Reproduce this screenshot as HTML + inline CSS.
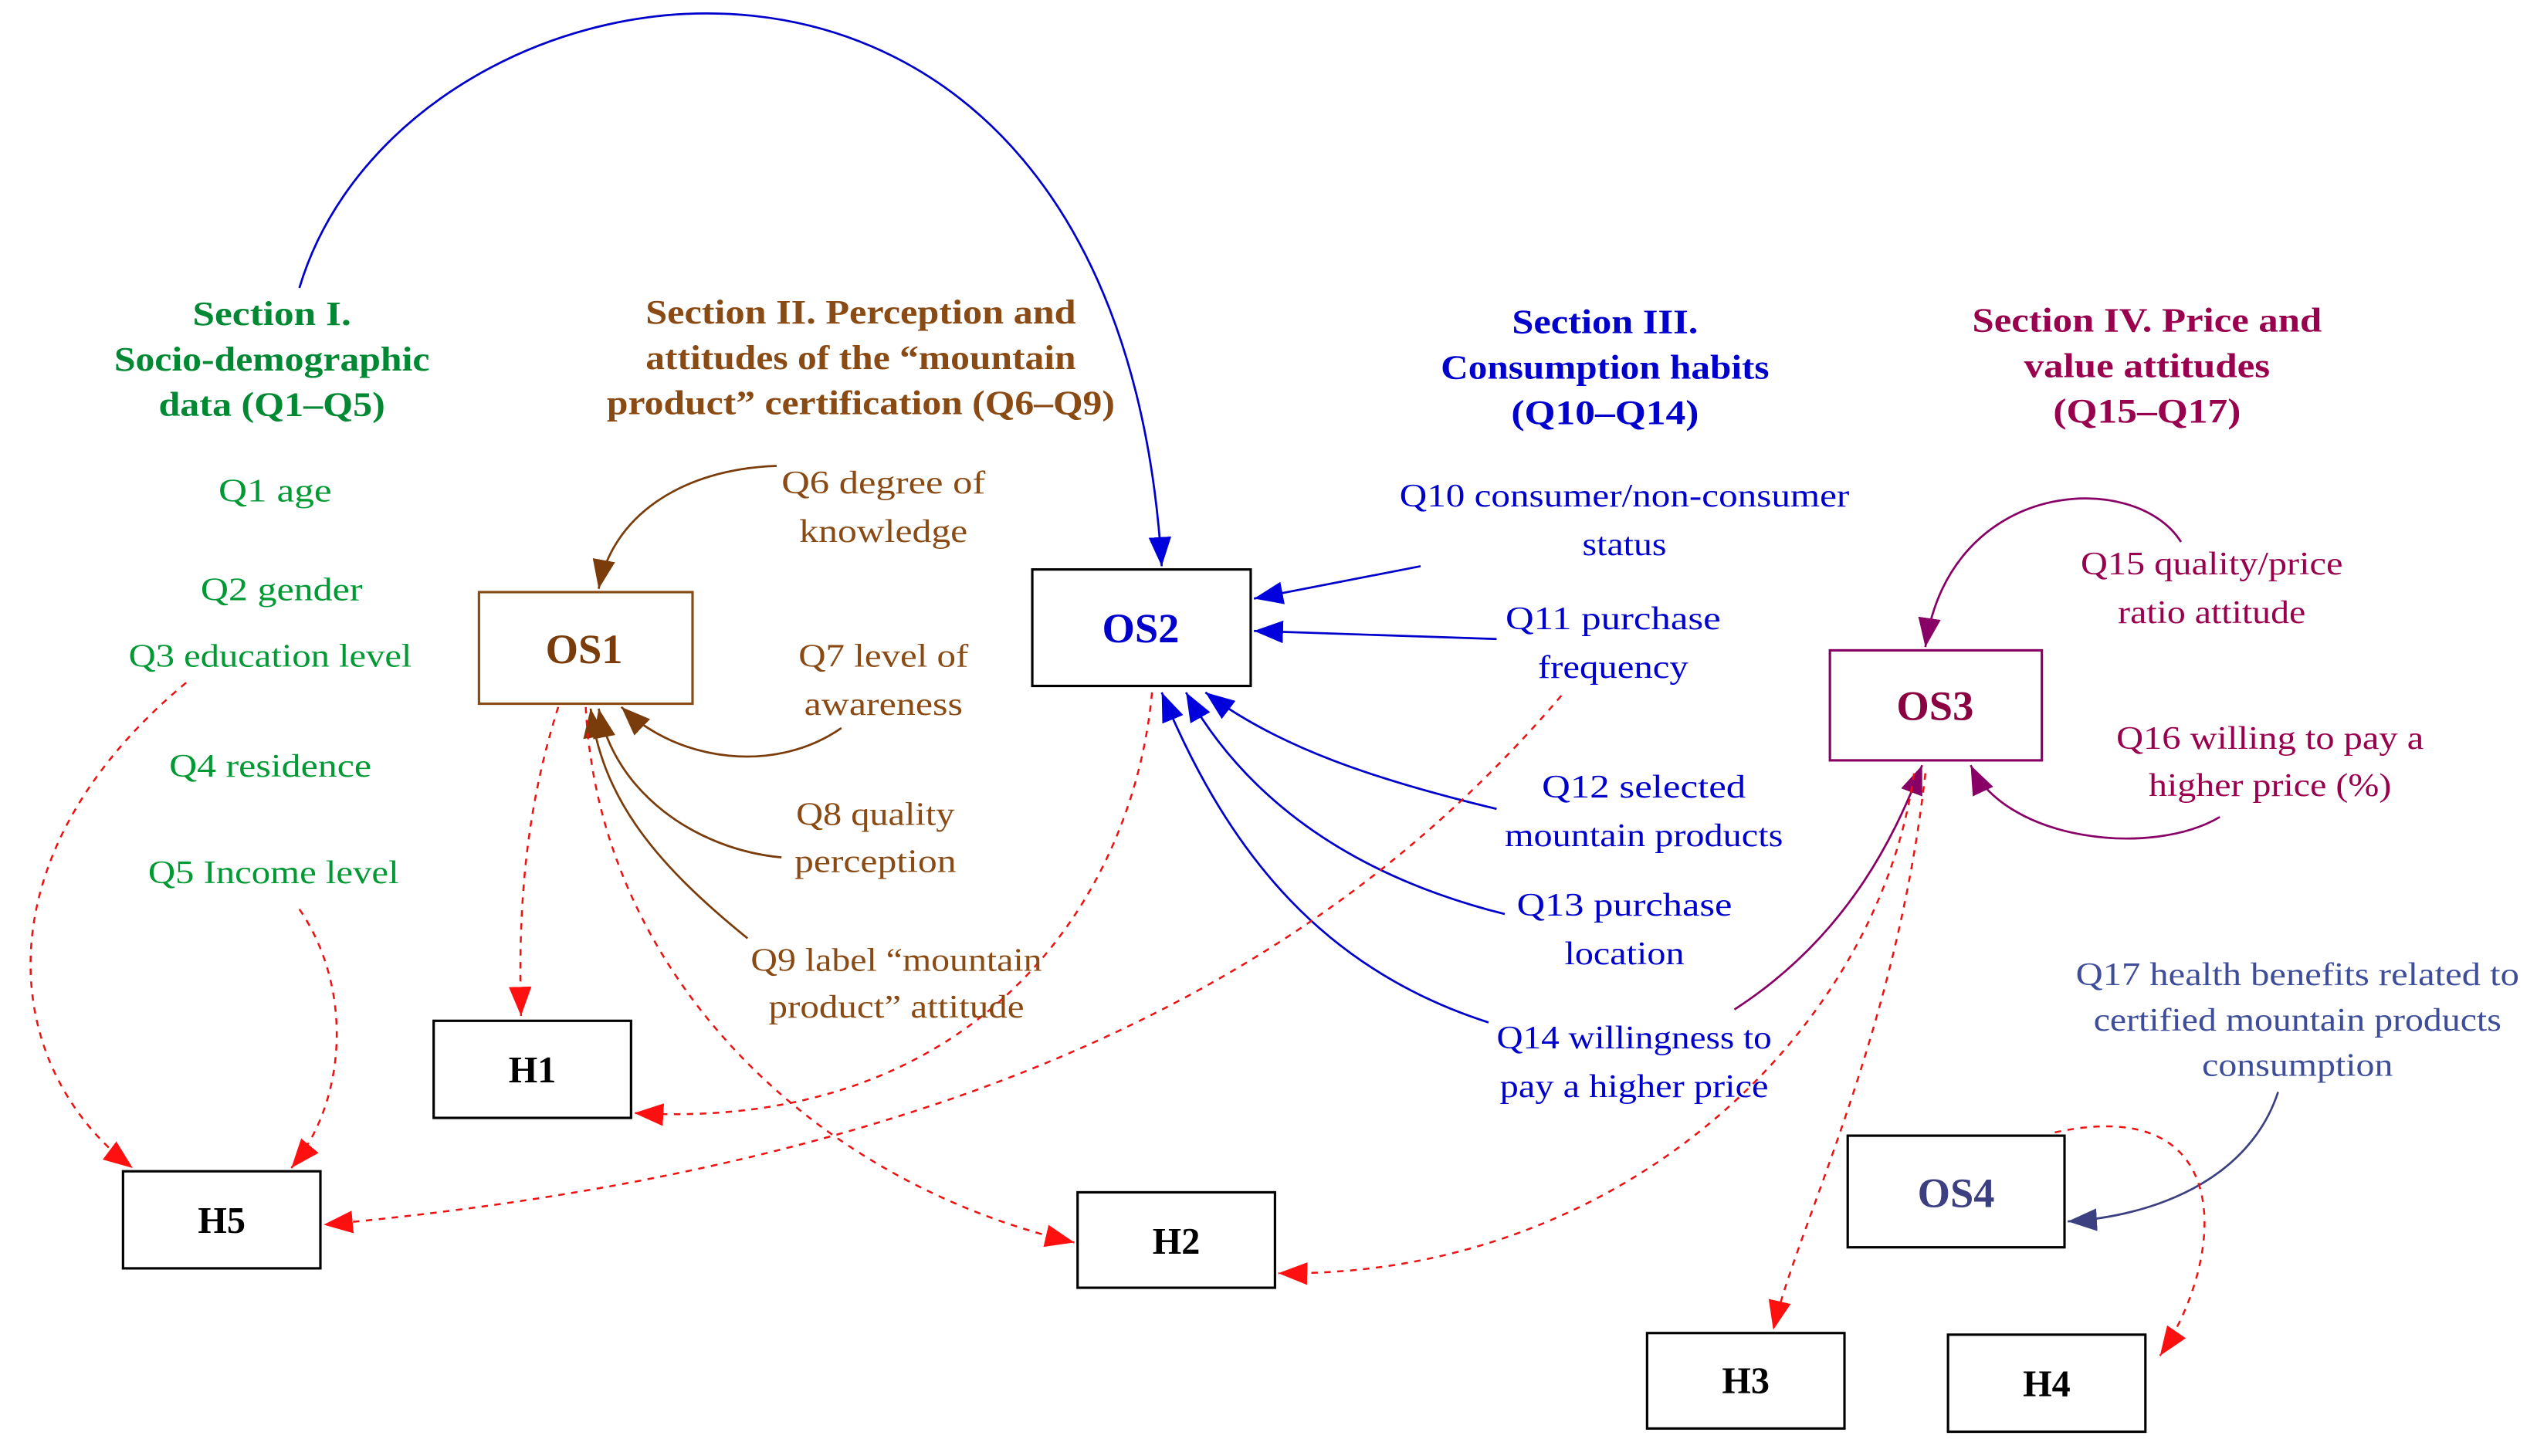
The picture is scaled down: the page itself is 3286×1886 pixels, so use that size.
<!DOCTYPE html>
<html><head><meta charset="utf-8"><style>
html,body{margin:0;padding:0;background:#fff}
svg{display:block}
text{font-family:"Liberation Serif",serif}
.t{font-weight:bold;font-size:21px}
.q{font-size:20px}
</style></head><body>
<svg width="3286" height="1886" viewBox="0 0 1568 900" xmlns="http://www.w3.org/2000/svg">
<defs>
<marker id="ab" markerUnits="userSpaceOnUse" markerWidth="20" markerHeight="16" refX="18" refY="8" orient="auto"><path d="M0,1 L18,8 L0,15 z" fill="#0000dd"/></marker>
<marker id="abr" markerUnits="userSpaceOnUse" markerWidth="20" markerHeight="16" refX="18" refY="8" orient="auto"><path d="M0,1 L18,8 L0,15 z" fill="#7a3c0a"/></marker>
<marker id="ap" markerUnits="userSpaceOnUse" markerWidth="20" markerHeight="16" refX="18" refY="8" orient="auto"><path d="M0,1 L18,8 L0,15 z" fill="#880066"/></marker>
<marker id="as" markerUnits="userSpaceOnUse" markerWidth="20" markerHeight="16" refX="18" refY="8" orient="auto"><path d="M0,1 L18,8 L0,15 z" fill="#3d4080"/></marker>
<marker id="ar" markerUnits="userSpaceOnUse" markerWidth="20" markerHeight="16" refX="18" refY="8" orient="auto"><path d="M0,1 L18,8 L0,15 z" fill="#ff1010"/></marker>
</defs>

<g fill="none" stroke="#0000cc" stroke-width="1.3" marker-end="url(#ab)">
<path d="M185,178 C 250,-40 690,-110 718,350"/>
<path d="M878,350 L775,370"/>
<path d="M925,395 L775,390"/>
<path d="M925,500 C 850,482 790,462 745,428"/>
<path d="M930,565 C 830,540 768,490 733,428"/>
<path d="M920,632 C 820,600 760,530 718,428"/>
</g>
<g fill="none" stroke="#7a3c0a" stroke-width="1.3" marker-end="url(#abr)">
<path d="M480,288 C 420,290 378,320 370,364"/>
<path d="M520,450 C 480,478 420,472 384,437"/>
<path d="M483,530 C 430,525 380,490 370,438"/>
<path d="M462,580 C 400,530 372,490 365,438"/>
</g>
<g fill="none" stroke="#880066" stroke-width="1.3" marker-end="url(#ap)">
<path d="M1072,624 C 1140,580 1170,520 1188,473"/>
<path d="M1348,335 C 1320,290 1205,295 1190,400"/>
<path d="M1372,505 C 1330,530 1240,520 1218,473"/>
</g>
<path d="M1408,675 C 1390,730 1330,752 1278,755" fill="none" stroke="#3d4080" stroke-width="1.3" marker-end="url(#as)"/>
<g fill="none" stroke="#ee1111" stroke-width="1.2" stroke-dasharray="4,4" marker-end="url(#ar)">
<path d="M115,422 C -15,530 0,660 82,722"/>
<path d="M185,562 C 218,610 215,680 180,722"/>
<path d="M345,437 C 325,500 320,560 322,628"/>
<path d="M362,437 C 370,600 500,730 664,768"/>
<path d="M712,428 C 700,560 600,700 392,688"/>
<path d="M965,430 C 820,600 600,720 200,757"/>
<path d="M1183,478 C 1160,640 1000,790 790,787"/>
<path d="M1190,478 C 1172,640 1110,760 1096,822"/>
<path d="M1270,700 C 1385,675 1375,780 1335,838"/>
</g>

<g fill="#fff" stroke-width="1.5">
<rect x="296" y="366" width="132" height="69" stroke="#8a4a14"/>
<rect x="638" y="352" width="135" height="72" stroke="#000"/>
<rect x="1131" y="402" width="131" height="68" stroke="#880066"/>
<rect x="1142" y="702" width="134" height="69" stroke="#000"/>
<rect x="268" y="631" width="122" height="60" stroke="#000"/>
<rect x="76" y="724" width="122" height="60" stroke="#000"/>
<rect x="666" y="737" width="122" height="59" stroke="#000"/>
<rect x="1018" y="824" width="122" height="59" stroke="#000"/>
<rect x="1204" y="825" width="122" height="60" stroke="#000"/>
</g>
<g text-anchor="middle" style="font-weight:bold">
<text x="361" y="410" fill="#7a3c0a" style="font-size:26px">OS1</text>
<text x="705" y="397" fill="#0000cc" style="font-size:26px">OS2</text>
<text x="1196" y="445" fill="#8a0040" style="font-size:26px">OS3</text>
<text x="1209" y="746" fill="#3d4080" style="font-size:26px">OS4</text>
<text x="329" y="669" fill="#000" style="font-size:23px">H1</text>
<text x="137" y="762" fill="#000" style="font-size:23px">H5</text>
<text x="727" y="775" fill="#000" style="font-size:23px">H2</text>
<text x="1079" y="861" fill="#000" style="font-size:23px">H3</text>
<text x="1265" y="863" fill="#000" style="font-size:23px">H4</text>
</g>

<g class="t" text-anchor="middle">
<g fill="#008833">
<text x="168" y="201" textLength="98" lengthAdjust="spacingAndGlyphs">Section I.</text>
<text x="168" y="229" textLength="195" lengthAdjust="spacingAndGlyphs">Socio-demographic</text>
<text x="168" y="257" textLength="140" lengthAdjust="spacingAndGlyphs">data (Q1–Q5)</text>
</g>
<g fill="#8a4a14">
<text x="532" y="200" textLength="266" lengthAdjust="spacingAndGlyphs">Section II. Perception and</text>
<text x="532" y="228" textLength="266" lengthAdjust="spacingAndGlyphs">attitudes of the “mountain</text>
<text x="532" y="256" textLength="314" lengthAdjust="spacingAndGlyphs">product” certification (Q6–Q9)</text>
</g>
<g fill="#0000cc">
<text x="992" y="206" textLength="115" lengthAdjust="spacingAndGlyphs">Section III.</text>
<text x="992" y="234" textLength="203" lengthAdjust="spacingAndGlyphs">Consumption habits</text>
<text x="992" y="262" textLength="116" lengthAdjust="spacingAndGlyphs">(Q10–Q14)</text>
</g>
<g fill="#99004d">
<text x="1327" y="205" textLength="216" lengthAdjust="spacingAndGlyphs">Section IV. Price and</text>
<text x="1327" y="233" textLength="152" lengthAdjust="spacingAndGlyphs">value attitudes</text>
<text x="1327" y="261" textLength="116" lengthAdjust="spacingAndGlyphs">(Q15–Q17)</text>
</g>
</g>

<g class="q" text-anchor="middle">
<g fill="#009933">
<text x="170" y="310" textLength="70" lengthAdjust="spacingAndGlyphs">Q1 age</text>
<text x="174" y="371" textLength="100" lengthAdjust="spacingAndGlyphs">Q2 gender</text>
<text x="167" y="412" textLength="175" lengthAdjust="spacingAndGlyphs">Q3 education level</text>
<text x="167" y="480" textLength="125" lengthAdjust="spacingAndGlyphs">Q4 residence</text>
<text x="169" y="546" textLength="155" lengthAdjust="spacingAndGlyphs">Q5 Income level</text>
</g>
<g fill="#8a4a14">
<text x="546" y="305" textLength="126" lengthAdjust="spacingAndGlyphs">Q6 degree of</text>
<text x="546" y="335" textLength="104" lengthAdjust="spacingAndGlyphs">knowledge</text>
<text x="546" y="412" textLength="105" lengthAdjust="spacingAndGlyphs">Q7 level of</text>
<text x="546" y="442" textLength="98" lengthAdjust="spacingAndGlyphs">awareness</text>
<text x="541" y="510" textLength="98" lengthAdjust="spacingAndGlyphs">Q8 quality</text>
<text x="541" y="539" textLength="100" lengthAdjust="spacingAndGlyphs">perception</text>
<text x="554" y="600" textLength="180" lengthAdjust="spacingAndGlyphs">Q9 label “mountain</text>
<text x="554" y="629" textLength="158" lengthAdjust="spacingAndGlyphs">product” attitude</text>
</g>
<g fill="#0000cc">
<text x="1004" y="313" textLength="278" lengthAdjust="spacingAndGlyphs">Q10 consumer/non-consumer</text>
<text x="1004" y="343" textLength="52" lengthAdjust="spacingAndGlyphs">status</text>
<text x="997" y="389" textLength="133" lengthAdjust="spacingAndGlyphs">Q11 purchase</text>
<text x="997" y="419" textLength="93" lengthAdjust="spacingAndGlyphs">frequency</text>
<text x="1016" y="493" textLength="126" lengthAdjust="spacingAndGlyphs">Q12 selected</text>
<text x="1016" y="523" textLength="172" lengthAdjust="spacingAndGlyphs">mountain products</text>
<text x="1004" y="566" textLength="133" lengthAdjust="spacingAndGlyphs">Q13 purchase</text>
<text x="1004" y="596" textLength="74" lengthAdjust="spacingAndGlyphs">location</text>
<text x="1010" y="648" textLength="170" lengthAdjust="spacingAndGlyphs">Q14 willingness to</text>
<text x="1010" y="678" textLength="166" lengthAdjust="spacingAndGlyphs">pay a higher price</text>
</g>
<g fill="#99004d">
<text x="1367" y="355" textLength="162" lengthAdjust="spacingAndGlyphs">Q15 quality/price</text>
<text x="1367" y="385" textLength="116" lengthAdjust="spacingAndGlyphs">ratio attitude</text>
<text x="1403" y="463" textLength="190" lengthAdjust="spacingAndGlyphs">Q16 willing to pay a</text>
<text x="1403" y="492" textLength="150" lengthAdjust="spacingAndGlyphs">higher price (%)</text>
</g>
<g fill="#3d4d9a">
<text x="1420" y="609" textLength="274" lengthAdjust="spacingAndGlyphs">Q17 health benefits related to</text>
<text x="1420" y="637" textLength="252" lengthAdjust="spacingAndGlyphs">certified mountain products</text>
<text x="1420" y="665" textLength="118" lengthAdjust="spacingAndGlyphs">consumption</text>
</g>
</g>
</svg>
</body></html>
